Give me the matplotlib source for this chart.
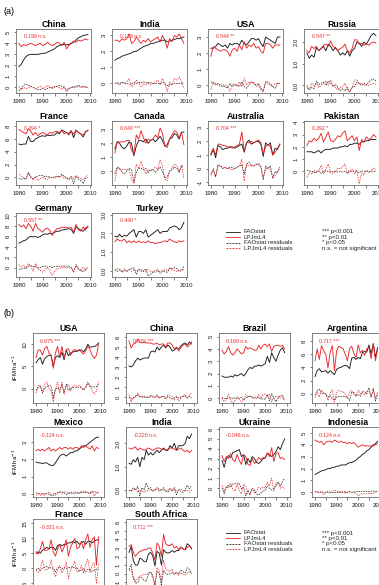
import matplotlib
matplotlib.use("Agg")
import matplotlib.pyplot as plt
from matplotlib.lines import Line2D

plt.rcParams["font.family"] = ["Liberation Sans", "DejaVu Sans"]

W, H = 379, 585
BLACK = "#1a1a1a"
RED = "#e8262b"

years_a = list(range(1980, 2010))
years_b = list(range(1980, 2010))

# ── panel (a) data
a_china_fao = [1.9, 2.1, 2.5, 2.8, 2.95, 3.0, 3.0, 3.0, 3.0, 3.05, 3.1, 3.1, 3.2, 3.3, 3.4, 3.5, 3.7, 3.8, 3.9, 3.9, 3.85, 3.9, 4.0, 4.1, 4.3, 4.5, 4.6, 4.7, 4.75, 4.8]
a_china_lpj = [4.0, 3.7, 3.9, 3.8, 3.9, 4.0, 3.9, 3.8, 3.9, 4.0, 3.8, 3.9, 4.1, 3.9, 3.8, 3.9, 4.1, 4.0, 3.8, 4.1, 3.5, 3.8, 4.0, 4.2, 4.1, 4.3, 4.2, 4.3, 4.4, 4.3]
a_china_fao_res = [-0.3, -0.1, 0.2, 0.3, 0.2, 0.1, 0.0, -0.1, -0.2, -0.2, -0.1, -0.2, -0.1, 0.0, 0.0, 0.1, 0.1, 0.2, 0.1, 0.0, -0.2, -0.1, 0.0, 0.0, 0.1, 0.2, 0.1, 0.1, 0.0, 0.0]
a_china_lpj_res = [0.1, -0.2, 0.0, -0.1, 0.0, 0.1, 0.0, -0.1, 0.0, 0.1, -0.1, 0.0, 0.2, 0.0, -0.1, 0.0, 0.1, 0.0, -0.2, 0.1, -0.4, -0.1, 0.0, 0.1, 0.0, 0.1, 0.0, 0.0, 0.1, 0.0]

a_india_fao = [1.45, 1.55, 1.6, 1.7, 1.75, 1.8, 1.85, 1.9, 2.0, 2.0, 2.1, 2.2, 2.3, 2.35, 2.4, 2.5, 2.5, 2.55, 2.6, 2.65, 2.7, 2.7, 2.6, 2.65, 2.7, 2.75, 2.8, 2.8, 2.85, 2.9]
a_india_lpj = [2.7, 2.7, 2.6, 2.8, 2.7, 2.8, 3.1, 2.5, 2.6, 2.9, 2.7, 2.5, 2.7, 2.6, 2.8, 2.6, 2.7, 2.8, 2.9, 2.6, 3.0, 2.7, 2.2, 2.8, 2.6, 3.0, 2.9, 3.1, 2.8, 2.5]
a_india_fao_res = [0.0, 0.05, 0.0, 0.05, 0.0, 0.0, -0.05, -0.05, 0.05, 0.0, 0.05, 0.05, 0.1, 0.05, 0.0, 0.05, 0.0, 0.0, 0.0, 0.0, 0.05, 0.0, -0.15, -0.1, -0.05, 0.0, 0.0, 0.0, 0.0, 0.05]
a_india_lpj_res = [0.0, 0.0, -0.1, 0.1, 0.0, 0.1, 0.3, -0.2, -0.1, 0.2, 0.0, -0.2, 0.0, -0.1, 0.1, -0.1, 0.0, 0.1, 0.2, -0.1, 0.3, 0.0, -0.5, 0.1, -0.1, 0.3, 0.2, 0.4, 0.1, -0.3]

a_usa_fao = [2.3, 2.3, 2.4, 2.6, 2.5, 2.4, 2.5, 2.3, 2.6, 2.5, 2.6, 2.6, 2.5, 2.8, 2.6, 2.5, 2.7, 2.9, 2.9, 2.8, 2.9, 2.6, 2.4, 3.0, 2.9, 2.8, 2.7, 2.6, 3.0, 3.0]
a_usa_lpj = [1.8, 2.4, 2.3, 2.2, 2.1, 2.2, 2.2, 2.1, 1.8, 2.2, 2.3, 2.1, 2.5, 2.2, 2.7, 2.3, 2.5, 2.4, 2.6, 2.3, 2.4, 2.1, 2.0, 2.6, 2.6, 2.5, 2.3, 2.5, 2.5, 2.5]
a_usa_fao_res = [0.2, 0.1, 0.0, 0.1, 0.0, -0.1, -0.1, -0.2, 0.1, -0.1, 0.0, 0.0, -0.1, 0.2, -0.1, -0.2, 0.0, 0.2, 0.1, 0.0, 0.1, -0.2, -0.4, 0.2, 0.1, 0.0, -0.1, -0.2, 0.1, 0.1]
a_usa_lpj_res = [-0.3, 0.2, 0.1, 0.0, -0.1, 0.0, 0.0, -0.1, -0.4, 0.0, 0.1, -0.1, 0.2, -0.1, 0.4, 0.0, 0.2, 0.1, 0.2, -0.1, 0.0, -0.3, -0.4, 0.2, 0.2, 0.1, -0.1, 0.1, 0.1, 0.1]

a_russia_fao = [1.5, 1.25, 1.4, 1.3, 1.75, 1.6, 1.7, 1.8, 1.6, 1.9, 1.8, 1.6, 1.75, 1.6, 1.4, 1.5, 1.4, 1.6, 1.35, 1.6, 1.7, 2.0, 1.95, 1.8, 2.0, 1.9, 2.1, 2.3, 2.4, 2.3]
a_russia_lpj = [1.6, 1.5, 1.8, 1.7, 1.8, 1.6, 1.7, 1.85, 1.9, 1.8, 2.05, 1.8, 1.7, 1.6, 1.7, 1.75, 1.9, 1.6, 1.5, 1.7, 2.1, 2.1, 1.9, 1.95, 1.85, 1.9, 1.85, 1.95, 2.0, 1.95]
a_russia_fao_res = [0.0, -0.2, -0.1, -0.15, 0.2, 0.05, 0.1, 0.15, 0.0, 0.2, 0.1, -0.05, 0.05, -0.1, -0.25, -0.15, -0.25, -0.1, -0.3, -0.1, -0.05, 0.15, 0.1, 0.0, 0.1, 0.0, 0.15, 0.25, 0.3, 0.2]
a_russia_lpj_res = [-0.1, -0.2, 0.1, 0.0, 0.1, -0.1, 0.0, 0.1, 0.2, 0.0, 0.25, 0.0, -0.1, -0.2, -0.1, -0.05, 0.1, -0.2, -0.3, -0.1, 0.25, 0.25, 0.05, 0.1, 0.0, 0.05, 0.0, 0.05, 0.1, 0.05]

a_france_fao = [5.2, 5.1, 5.2, 5.2, 6.4, 5.6, 5.6, 6.0, 6.2, 6.4, 6.5, 6.4, 6.6, 6.5, 6.6, 6.6, 7.0, 6.8, 7.4, 7.2, 7.0, 6.8, 7.3, 6.2, 7.4, 7.0, 6.8, 6.3, 7.1, 7.3]
a_france_lpj = [7.5, 7.2, 7.0, 6.8, 7.6, 7.2, 6.6, 7.0, 6.5, 6.8, 7.0, 6.8, 6.6, 7.0, 6.9, 7.1, 7.2, 7.0, 7.3, 6.8, 7.0, 6.6, 7.2, 6.8, 7.3, 7.0, 6.8, 6.6, 7.1, 7.4]
a_france_fao_res = [-0.2, -0.3, -0.2, -0.3, 0.8, -0.1, -0.2, 0.1, 0.2, 0.3, 0.3, 0.1, 0.2, 0.0, 0.0, -0.1, 0.2, 0.0, 0.5, 0.2, -0.1, -0.3, 0.1, -1.0, 0.2, -0.3, -0.5, -1.0, -0.2, 0.0]
a_france_lpj_res = [0.5, 0.2, 0.0, -0.2, 0.6, 0.2, -0.4, 0.0, -0.5, -0.2, 0.0, -0.2, -0.4, 0.0, -0.1, 0.1, 0.2, 0.0, 0.3, -0.2, 0.0, -0.4, 0.2, -0.2, 0.3, 0.0, -0.2, -0.4, 0.1, 0.4]

a_canada_fao = [1.6, 2.1, 2.0, 1.7, 1.6, 1.8, 2.1, 2.0, 1.1, 1.8, 2.2, 2.2, 2.1, 2.3, 2.0, 2.2, 2.3, 2.1, 2.3, 2.5, 2.2, 1.8, 1.9, 2.3, 2.4, 2.7, 2.6, 2.3, 2.8, 2.8]
a_canada_lpj = [1.3, 2.1, 2.1, 2.1, 2.1, 2.2, 2.2, 1.5, 1.2, 2.6, 2.3, 2.9, 2.4, 2.0, 2.3, 2.2, 2.3, 2.6, 2.4, 3.1, 2.7, 1.8, 1.7, 2.3, 2.6, 2.9, 2.8, 2.4, 2.8, 1.9]
a_canada_fao_res = [-0.2, 0.3, 0.2, -0.1, -0.2, 0.0, 0.2, 0.1, -0.8, -0.1, 0.2, 0.2, 0.1, 0.2, -0.1, 0.1, 0.1, -0.1, 0.1, 0.3, -0.1, -0.5, -0.4, 0.0, 0.1, 0.3, 0.2, -0.1, 0.4, 0.3]
a_canada_lpj_res = [-0.7, 0.2, 0.1, 0.1, 0.1, 0.1, 0.1, -0.6, -0.9, 0.5, 0.2, 0.7, 0.2, -0.2, 0.1, 0.0, 0.1, 0.3, 0.1, 0.8, 0.4, -0.6, -0.7, 0.0, 0.2, 0.5, 0.4, 0.0, 0.4, -0.5]

a_australia_fao = [1.0, 1.4, 0.8, 1.7, 1.6, 1.4, 1.5, 1.5, 1.6, 1.6, 1.5, 1.6, 1.7, 1.8, 1.2, 1.9, 2.1, 1.8, 1.9, 2.0, 2.0, 1.8, 0.9, 1.9, 1.7, 1.9, 1.0, 1.5, 1.4, 1.8]
a_australia_lpj = [1.1, 1.5, 1.0, 1.8, 1.8, 1.7, 1.7, 1.6, 1.6, 1.5, 1.6, 1.7, 1.8, 2.7, 1.3, 1.9, 1.9, 2.0, 1.9, 2.0, 2.1, 1.9, 1.1, 1.6, 1.8, 1.6, 1.0, 1.2, 1.5, 1.8]
a_australia_fao_res = [-0.4, 0.0, -0.6, 0.3, 0.2, 0.0, 0.1, 0.0, 0.1, 0.1, 0.0, 0.1, 0.2, 0.3, -0.4, 0.3, 0.5, 0.2, 0.2, 0.3, 0.3, 0.1, -0.8, 0.2, 0.0, 0.2, -0.7, -0.2, -0.3, 0.1]
a_australia_lpj_res = [-0.5, -0.1, -0.6, 0.2, 0.2, 0.1, 0.1, 0.0, 0.0, -0.1, 0.0, 0.1, 0.2, 0.7, -0.9, 0.3, 0.2, 0.3, 0.2, 0.3, 0.4, 0.2, -0.6, -0.1, 0.1, -0.1, -0.7, -0.5, -0.2, 0.1]

a_pakistan_fao = [1.6, 1.6, 1.6, 1.5, 1.6, 1.7, 1.5, 1.7, 1.8, 1.8, 1.8, 1.9, 1.9, 1.9, 2.0, 2.0, 2.1, 2.0, 2.2, 2.2, 2.3, 2.3, 2.2, 2.4, 2.4, 2.5, 2.5, 2.6, 2.6, 2.6]
a_pakistan_lpj = [2.1, 2.5, 2.4, 2.7, 2.5, 2.7, 3.1, 2.4, 2.8, 3.2, 2.5, 2.4, 2.6, 2.9, 2.8, 3.1, 3.3, 2.5, 2.7, 2.9, 2.5, 2.8, 1.7, 2.6, 2.4, 2.8, 2.6, 2.7, 3.0, 2.8]
a_pakistan_fao_res = [0.1, 0.05, 0.0, -0.1, 0.0, 0.05, -0.15, 0.0, 0.05, 0.0, -0.05, 0.0, 0.0, -0.05, 0.0, -0.05, 0.0, -0.1, 0.05, 0.0, 0.05, 0.0, -0.1, 0.05, 0.0, 0.05, 0.0, 0.05, 0.0, 0.0]
a_pakistan_lpj_res = [-0.5, -0.1, -0.2, 0.1, -0.1, 0.1, 0.5, -0.2, 0.2, 0.6, -0.1, -0.2, 0.0, 0.3, 0.2, 0.4, 0.6, -0.2, 0.0, 0.2, -0.2, 0.1, -1.0, -0.1, -0.3, 0.1, -0.1, 0.0, 0.3, 0.1]

a_germany_fao = [4.7, 4.9, 5.2, 5.3, 5.8, 6.0, 5.9, 6.0, 5.8, 6.0, 6.3, 6.5, 6.4, 6.6, 6.5, 6.8, 7.0, 7.0, 7.2, 7.3, 7.4, 7.5, 7.3, 6.6, 7.9, 7.5, 7.2, 7.0, 7.6, 7.8]
a_germany_lpj = [8.3, 7.8, 8.2, 7.5, 8.5, 8.0, 7.0, 8.5, 7.5, 7.2, 6.8, 7.4, 7.6, 7.2, 6.2, 7.0, 7.5, 7.5, 7.8, 7.7, 7.8, 7.6, 7.7, 6.8, 8.3, 7.3, 7.0, 7.8, 7.2, 8.0]
a_germany_fao_res = [-0.3, -0.3, -0.1, -0.1, 0.3, 0.4, 0.2, 0.2, -0.1, 0.0, 0.2, 0.3, 0.1, 0.2, 0.0, 0.2, 0.3, 0.2, 0.3, 0.3, 0.3, 0.3, 0.0, -0.8, 0.4, -0.1, -0.5, -0.8, -0.3, -0.2]
a_germany_lpj_res = [0.6, 0.1, 0.5, -0.2, 0.8, 0.3, -0.7, 0.8, -0.2, -0.5, -0.9, -0.3, -0.1, -0.5, -1.5, -0.7, -0.2, -0.2, 0.1, 0.0, 0.1, -0.1, 0.0, -0.9, 0.6, -0.4, -0.7, 0.1, -0.5, 0.3]

a_turkey_fao = [1.85, 1.8, 1.95, 1.8, 1.9, 1.85, 2.0, 2.1, 2.2, 1.8, 2.1, 2.1, 2.0, 2.2, 1.8, 1.9, 2.0, 2.1, 2.2, 2.0, 2.1, 2.1, 2.1, 2.3, 2.35, 2.4, 2.35, 2.2, 2.3, 2.6]
a_turkey_lpj = [1.55, 1.7, 1.6, 1.6, 1.7, 1.5, 1.6, 1.5, 1.6, 1.5, 1.6, 1.5, 1.55, 1.5, 1.6, 1.5, 1.5, 1.45, 1.5, 1.5, 1.55, 1.6, 1.55, 1.7, 1.6, 1.55, 1.5, 1.6, 1.55, 1.6]
a_turkey_fao_res = [0.05, -0.05, 0.05, -0.1, 0.0, -0.05, 0.05, 0.1, 0.15, -0.2, 0.05, 0.05, -0.05, 0.1, -0.3, -0.2, -0.1, 0.0, 0.05, -0.15, -0.05, -0.05, -0.1, 0.1, 0.1, 0.15, 0.1, -0.05, 0.0, 0.25]
a_turkey_lpj_res = [0.0, 0.1, 0.05, 0.0, 0.1, -0.05, 0.05, -0.05, 0.05, -0.05, 0.05, -0.05, 0.0, -0.05, 0.05, -0.05, -0.05, -0.1, -0.05, -0.05, 0.0, 0.05, 0.0, 0.15, 0.05, 0.0, -0.05, 0.05, 0.0, 0.05]

# ── panel (b) data
b_usa_fao = [5.8, 6.5, 7.0, 5.5, 6.8, 7.2, 7.5, 7.5, 5.0, 7.0, 7.4, 7.0, 8.2, 6.5, 8.7, 7.4, 8.0, 8.2, 8.4, 8.4, 8.6, 8.7, 8.3, 8.9, 10.0, 9.3, 9.4, 9.5, 9.7, 10.3]
b_usa_lpj = [7.0, 8.7, 8.7, 7.5, 9.0, 9.5, 8.0, 7.5, 4.6, 8.0, 9.5, 7.0, 9.5, 6.8, 8.7, 9.0, 7.5, 8.5, 8.8, 8.5, 8.8, 8.2, 7.8, 8.5, 9.5, 8.8, 7.5, 6.8, 7.5, 10.0]
b_usa_fao_res = [-0.4, 0.2, 0.6, -1.0, 0.2, 0.5, 0.7, 0.6, -2.0, -0.1, 0.2, -0.3, 0.8, -1.0, 1.0, -0.4, 0.1, 0.2, 0.3, 0.2, 0.3, 0.2, -0.3, 0.2, 1.2, 0.4, 0.4, 0.4, 0.5, 1.0]
b_usa_lpj_res = [-1.0, 0.7, 0.7, -0.5, 1.0, 1.5, 0.0, -0.5, -3.0, 0.0, 1.5, -1.0, 1.5, -1.2, 0.7, 1.0, -0.5, 0.5, 0.8, 0.5, 0.8, 0.2, -0.2, 0.5, 1.5, 0.8, -0.5, -1.2, -0.5, 1.6]

b_china_fao = [3.1, 3.0, 3.2, 3.6, 3.9, 3.7, 3.8, 3.9, 3.9, 3.9, 4.5, 4.6, 4.5, 5.0, 4.7, 5.0, 5.2, 4.9, 5.2, 5.0, 4.6, 4.7, 4.9, 4.8, 5.1, 5.3, 5.4, 5.2, 5.5, 5.3]
b_china_lpj = [5.6, 4.9, 5.3, 5.4, 5.8, 5.5, 5.4, 5.5, 5.4, 5.4, 5.4, 5.3, 5.3, 5.4, 5.2, 5.3, 5.3, 5.0, 5.4, 5.4, 5.2, 4.8, 5.0, 4.6, 4.9, 5.2, 5.3, 5.0, 5.2, 5.5]
b_china_fao_res = [0.0, -0.2, -0.1, 0.1, 0.2, 0.0, 0.0, 0.0, -0.05, -0.1, 0.15, 0.1, -0.05, 0.2, -0.1, 0.05, 0.1, -0.15, 0.05, -0.1, -0.2, -0.1, 0.05, -0.1, 0.0, 0.05, 0.1, -0.1, 0.05, -0.1]
b_china_lpj_res = [0.2, -0.5, -0.1, 0.0, 0.4, 0.1, 0.0, 0.1, 0.0, 0.0, 0.05, -0.05, 0.0, 0.1, -0.1, 0.0, 0.05, -0.2, 0.2, 0.2, 0.05, -0.3, -0.05, -0.4, -0.1, 0.15, 0.25, -0.05, 0.15, 0.4]

b_brazil_fao = [1.8, 1.7, 1.7, 1.7, 1.8, 1.7, 1.9, 1.8, 1.9, 2.0, 1.8, 2.0, 2.3, 2.5, 2.4, 2.6, 2.6, 2.7, 2.6, 2.7, 2.8, 3.4, 2.9, 3.7, 3.3, 3.0, 3.5, 3.9, 4.1, 3.7]
b_brazil_lpj = [3.9, 3.6, 3.8, 4.2, 3.7, 3.5, 3.7, 4.0, 3.8, 3.6, 3.7, 4.2, 4.0, 4.1, 4.0, 3.9, 3.9, 4.3, 4.0, 4.3, 4.4, 4.2, 4.4, 3.8, 4.2, 4.3, 4.3, 4.2, 4.3, 4.0]
b_brazil_fao_res = [0.05, -0.05, -0.05, 0.0, 0.05, -0.05, 0.05, -0.05, 0.0, 0.05, -0.15, 0.0, 0.1, 0.2, 0.05, 0.1, 0.05, 0.05, -0.1, -0.05, -0.1, 0.3, -0.2, 0.35, 0.0, -0.3, 0.0, 0.2, 0.25, -0.2]
b_brazil_lpj_res = [0.0, -0.3, -0.1, 0.3, -0.2, -0.4, -0.2, 0.1, -0.1, -0.3, -0.2, 0.3, 0.1, 0.15, 0.05, -0.05, -0.05, 0.3, 0.0, 0.25, 0.35, 0.1, 0.3, -0.3, 0.1, 0.15, 0.1, 0.0, 0.1, -0.2]

b_argentina_fao = [2.6, 3.5, 3.8, 3.3, 3.4, 3.5, 3.1, 3.5, 3.2, 2.9, 3.7, 3.9, 4.0, 4.2, 4.3, 4.2, 3.8, 5.4, 5.5, 5.2, 5.5, 5.3, 6.3, 6.4, 6.3, 7.4, 6.0, 7.6, 5.5, 7.0]
b_argentina_lpj = [5.0, 6.8, 5.2, 7.3, 6.5, 6.0, 3.9, 6.3, 7.3, 3.5, 6.5, 7.2, 7.0, 6.8, 6.0, 5.0, 6.8, 7.2, 6.1, 5.5, 7.4, 6.2, 6.6, 5.8, 6.8, 7.0, 5.3, 7.6, 5.0, 6.8]
b_argentina_fao_res = [-0.2, 0.5, 0.7, 0.1, 0.0, 0.0, -0.5, -0.3, -0.7, -1.0, -0.5, -0.4, -0.4, -0.4, -0.4, -0.6, -1.0, 0.2, 0.2, -0.3, -0.1, -0.4, 0.3, 0.3, 0.0, 0.9, -0.5, 0.8, -1.1, 0.0]
b_argentina_lpj_res = [-0.6, 0.3, -0.5, 0.6, 0.2, -0.1, -1.0, 0.1, 0.6, -1.2, 0.2, 0.5, 0.4, 0.3, -0.1, -0.6, 0.3, 0.5, -0.1, -0.4, 0.6, 0.0, 0.2, -0.2, 0.3, 0.4, -0.5, 0.7, -0.6, 0.3]

b_mexico_fao = [1.85, 1.8, 1.8, 1.75, 1.8, 1.8, 1.7, 1.65, 1.65, 1.8, 2.0, 2.2, 2.3, 2.3, 2.2, 2.3, 2.4, 2.4, 2.5, 2.5, 2.6, 2.7, 2.8, 2.8, 2.9, 3.0, 3.1, 3.2, 3.3, 3.3]
b_mexico_lpj = [2.5, 2.6, 2.5, 2.6, 2.5, 2.6, 2.7, 2.5, 2.6, 2.5, 2.6, 2.7, 2.6, 2.7, 2.7, 2.6, 2.7, 2.6, 2.7, 2.7, 2.6, 2.8, 2.7, 2.8, 2.7, 2.6, 2.8, 2.5, 2.7, 2.65]
b_mexico_fao_res = [0.05, 0.0, 0.0, -0.05, 0.0, 0.0, -0.05, -0.1, -0.1, 0.0, 0.05, 0.1, 0.1, 0.05, -0.05, 0.0, 0.05, 0.0, 0.05, 0.0, 0.05, 0.05, 0.1, 0.05, 0.05, 0.05, 0.1, 0.1, 0.1, 0.05]
b_mexico_lpj_res = [-0.1, 0.0, -0.1, 0.0, -0.1, 0.0, 0.1, -0.1, 0.0, -0.1, 0.0, 0.1, 0.0, 0.1, 0.1, 0.0, 0.1, 0.0, 0.1, 0.1, 0.0, 0.15, 0.05, 0.15, 0.05, -0.05, 0.15, -0.15, 0.05, 0.0]

b_india_fao = [1.15, 1.1, 1.3, 1.2, 1.4, 1.0, 1.4, 1.3, 1.7, 1.5, 1.6, 1.5, 1.6, 1.7, 1.6, 1.7, 1.8, 1.7, 1.7, 1.9, 1.8, 2.0, 1.7, 1.9, 1.9, 1.9, 2.0, 2.3, 2.2, 2.4]
b_india_lpj = [1.8, 1.75, 1.8, 1.85, 1.7, 1.8, 1.75, 1.7, 1.75, 1.8, 1.75, 1.7, 1.75, 1.8, 1.8, 1.75, 1.75, 1.7, 1.75, 1.8, 1.8, 1.75, 1.7, 1.75, 1.8, 1.7, 1.65, 1.7, 1.6, 1.7]
b_india_fao_res = [0.0, -0.05, 0.1, 0.0, 0.15, -0.25, 0.1, 0.0, 0.3, 0.05, 0.1, -0.05, 0.0, 0.1, -0.05, 0.0, 0.1, -0.05, -0.1, 0.05, -0.05, 0.1, -0.2, 0.0, -0.05, -0.1, 0.0, 0.2, 0.05, 0.2]
b_india_lpj_res = [0.0, -0.05, 0.0, 0.05, -0.1, 0.0, -0.05, -0.1, -0.05, 0.0, 0.0, -0.05, 0.0, 0.05, 0.05, 0.0, 0.0, -0.05, 0.0, 0.05, 0.05, 0.0, -0.05, 0.0, 0.05, 0.0, -0.05, 0.0, -0.1, 0.0]

b_ukraine_fao = [2.8, 2.1, 3.0, 3.3, 3.1, 3.6, 3.7, 3.8, 3.9, 3.2, 3.4, 2.4, 3.0, 2.6, 3.2, 3.0, 2.6, 2.5, 2.7, 3.0, 3.1, 3.5, 3.4, 3.2, 3.4, 3.7, 4.2, 3.9, 4.5, 5.0]
b_ukraine_lpj = [3.3, 2.7, 3.2, 3.0, 3.5, 2.9, 2.7, 3.4, 2.8, 2.4, 3.4, 3.2, 2.4, 2.3, 3.0, 2.5, 2.7, 3.1, 2.9, 3.1, 3.0, 3.6, 3.2, 4.1, 2.7, 3.5, 3.6, 3.0, 3.1, 2.9]
b_ukraine_fao_res = [0.0, -0.6, 0.1, 0.3, 0.1, 0.4, 0.5, 0.5, 0.5, -0.1, 0.1, -0.8, -0.2, -0.6, 0.0, -0.2, -0.6, -0.7, -0.5, -0.3, -0.2, 0.2, 0.0, -0.2, 0.0, 0.2, 0.6, 0.2, 0.7, 1.0]
b_ukraine_lpj_res = [0.3, -0.3, 0.2, 0.0, 0.5, -0.1, -0.3, 0.4, -0.2, -0.6, 0.4, 0.2, -0.6, -0.7, 0.0, -0.5, -0.3, 0.1, -0.1, 0.1, 0.0, 0.6, 0.2, 1.0, -0.3, 0.5, 0.6, 0.0, 0.1, -0.1]

b_indonesia_fao = [1.5, 1.6, 1.7, 1.8, 1.85, 1.9, 2.0, 2.0, 2.1, 2.1, 2.2, 2.2, 2.3, 2.3, 2.3, 2.4, 2.5, 2.5, 2.6, 2.7, 2.9, 3.0, 3.2, 3.3, 3.5, 3.6, 3.8, 4.0, 4.1, 4.3]
b_indonesia_lpj = [4.4, 4.3, 4.2, 4.3, 4.0, 4.2, 4.3, 4.3, 4.2, 4.4, 4.3, 4.2, 4.3, 4.2, 4.2, 4.1, 4.2, 4.1, 4.2, 4.0, 3.8, 3.9, 4.0, 3.9, 3.9, 3.9, 3.9, 3.9, 4.0, 4.1]
b_indonesia_fao_res = [0.05, 0.0, 0.0, 0.05, 0.0, -0.05, 0.0, -0.05, 0.0, -0.05, 0.0, -0.05, 0.0, 0.0, -0.05, 0.0, 0.05, 0.0, 0.0, 0.05, 0.1, 0.05, 0.1, 0.05, 0.1, 0.05, 0.1, 0.1, 0.05, 0.1]
b_indonesia_lpj_res = [0.1, 0.05, -0.05, 0.05, -0.2, 0.0, 0.1, 0.1, 0.0, 0.2, 0.1, 0.0, 0.1, 0.05, 0.05, -0.05, 0.05, -0.05, 0.05, -0.1, -0.3, -0.2, -0.1, -0.15, -0.1, -0.1, -0.1, -0.1, 0.0, 0.1]

b_france_fao = [5.0, 5.5, 5.0, 6.0, 6.5, 7.0, 6.5, 7.0, 7.0, 6.0, 7.5, 8.0, 7.5, 8.0, 8.0, 8.5, 8.5, 9.0, 8.5, 9.0, 8.0, 8.5, 9.0, 8.0, 9.0, 9.0, 8.5, 9.0, 9.5, 9.5]
b_france_lpj = [5.5, 4.7, 6.5, 9.0, 6.0, 6.0, 6.5, 9.5, 5.5, 4.0, 6.5, 8.0, 5.5, 7.0, 9.5, 4.0, 7.0, 8.5, 10.0, 6.5, 7.0, 9.0, 6.5, 9.5, 11.5, 7.0, 9.5, 10.5, 1.0, 10.5]
b_france_fao_res = [-0.5, 0.0, -0.8, 0.0, 0.3, 0.6, -0.1, 0.2, 0.0, -1.2, 0.1, 0.4, -0.3, 0.1, -0.1, 0.3, 0.2, 0.5, -0.1, 0.2, -1.0, -0.6, -0.2, -1.3, -0.4, -0.5, -1.1, -0.7, -0.3, -0.4]
b_france_lpj_res = [-0.7, -1.5, 0.2, 2.6, -0.4, -0.5, -0.1, 2.8, -1.3, -2.9, -0.5, 0.9, -1.7, -0.3, 2.1, -3.5, -0.6, 0.8, 2.2, -1.4, -1.0, 0.9, -1.7, 1.2, 3.1, -1.5, 0.9, 1.8, -5.2, 1.7]

b_safrica_fao = [2.5, 3.2, 1.5, 1.0, 1.0, 1.8, 1.7, 1.4, 1.4, 2.3, 2.5, 2.1, 0.9, 2.6, 2.4, 1.0, 2.8, 2.5, 2.4, 2.5, 2.7, 2.5, 2.7, 2.7, 3.1, 2.9, 2.8, 3.5, 3.3, 2.9]
b_safrica_lpj = [3.2, 3.4, 2.5, 2.0, 2.4, 2.6, 2.7, 2.8, 2.8, 3.0, 3.0, 2.4, 1.6, 3.6, 3.2, 2.0, 4.6, 3.5, 3.3, 3.3, 3.5, 3.0, 3.2, 2.8, 3.1, 2.9, 2.8, 3.1, 3.2, 3.0]
b_safrica_fao_res = [0.5, 1.1, -0.6, -1.1, -1.1, -0.4, -0.5, -0.8, -0.9, 0.0, 0.2, -0.2, -1.4, 0.3, 0.0, -1.4, 0.4, 0.0, -0.1, 0.0, 0.1, -0.1, 0.1, 0.0, 0.4, 0.2, 0.1, 0.7, 0.5, 0.0]
b_safrica_lpj_res = [0.3, 0.5, -0.4, -0.9, -0.5, -0.3, -0.2, -0.1, -0.1, 0.1, 0.1, -0.5, -1.3, 0.7, 0.3, -0.9, 1.6, 0.5, 0.3, 0.3, 0.5, 0.0, 0.2, -0.2, 0.1, -0.1, -0.2, 0.1, 0.2, 0.0]

# (title, fao, lpj, fao_res, lpj_res, r label, ylim, yticks, yticklabels)
panel_a = [
    ("China", a_china_fao, a_china_lpj, a_china_fao_res, a_china_lpj_res, "0.199 n.s.", (-0.5, 5.3), [0, 1, 2, 3, 4, 5], None),
    ("India", a_india_fao, a_india_lpj, a_india_fao_res, a_india_lpj_res, "0.179 n.s.", (-0.6, 3.4), [0, 1, 2, 3], None),
    ("USA", a_usa_fao, a_usa_lpj, a_usa_fao_res, a_usa_lpj_res, "0.544 **", (-0.5, 3.5), [0, 1, 2, 3], None),
    ("Russia", a_russia_fao, a_russia_lpj, a_russia_fao_res, a_russia_lpj_res, "0.547 **", (-0.35, 2.6), [0, 1, 2], ["0.0", "1.0", "2.0"]),
    ("France", a_france_fao, a_france_lpj, a_france_fao_res, a_france_lpj_res, "0.394 *", (-1.2, 8.8), [0, 2, 4, 6, 8], None),
    ("Canada", a_canada_fao, a_canada_lpj, a_canada_fao_res, a_canada_lpj_res, "0.640 ***", (-1.0, 3.6), [0, 1, 2, 3], None),
    ("Australia", a_australia_fao, a_australia_lpj, a_australia_fao_res, a_australia_lpj_res, "0.704 ***", (-1.2, 3.5), [-1, 0, 1, 2, 3], None),
    ("Pakistan", a_pakistan_fao, a_pakistan_lpj, a_pakistan_fao_res, a_pakistan_lpj_res, "0.392 *", (-1.1, 4.1), [0, 1, 2, 3, 4], None),
    ("Germany", a_germany_fao, a_germany_lpj, a_germany_fao_res, a_germany_lpj_res, "0.557 **", (-1.8, 10.5), [0, 2, 4, 6, 8, 10], None),
    ("Turkey", a_turkey_fao, a_turkey_lpj, a_turkey_fao_res, a_turkey_lpj_res, "0.440 *", (-0.35, 3.1), [0, 1, 2, 3], ["0.0", "1.0", "2.0", "3.0"]),
]

panel_b = [
    ("USA", b_usa_fao, b_usa_lpj, b_usa_fao_res, b_usa_lpj_res, "0.675 ***", (-3.2, 12.5), [0, 5, 10], None),
    ("China", b_china_fao, b_china_lpj, b_china_fao_res, b_china_lpj_res, "0.676 ***", (-0.6, 6.4), [0, 1, 2, 3, 4, 5, 6], None),
    ("Brazil", b_brazil_fao, b_brazil_lpj, b_brazil_fao_res, b_brazil_lpj_res, "0.169 n.s.", (-0.4, 5.3), [0, 1, 2, 3, 4, 5], None),
    ("Argentina", b_argentina_fao, b_argentina_lpj, b_argentina_fao_res, b_argentina_lpj_res, "0.717 ***", (-1.4, 9.2), [0, 2, 4, 6, 8], None),
    ("Mexico", b_mexico_fao, b_mexico_lpj, b_mexico_fao_res, b_mexico_lpj_res, "-0.124 n.s.", (-0.2, 3.9), [0, 1, 2, 3], None),
    ("India", b_india_fao, b_india_lpj, b_india_fao_res, b_india_lpj_res, "-0.220 n.s.", (-0.3, 2.7), [0, 1, 2], ["0.0", "1.0", "2.0"]),
    ("Ukraine", b_ukraine_fao, b_ukraine_lpj, b_ukraine_fao_res, b_ukraine_lpj_res, "-0.046 n.s.", (-0.9, 6.2), [0, 1, 2, 3, 4, 5, 6], None),
    ("Indonesia", b_indonesia_fao, b_indonesia_lpj, b_indonesia_fao_res, b_indonesia_lpj_res, "0.124 n.s.", (-0.4, 5.5), [0, 1, 2, 3, 4, 5], None),
    ("France", b_france_fao, b_france_lpj, b_france_fao_res, b_france_lpj_res, "-0.331 n.s.", (-7.0, 16.5), [-5, 0, 5, 10, 15], None),
    ("South Africa", b_safrica_fao, b_safrica_lpj, b_safrica_fao_res, b_safrica_lpj_res, "0.711 ***", (-1.8, 6.4), [-1, 0, 1, 2, 3, 4, 5, 6], None),
]

legend_labels = ["FAOstat", "LPJmL4", "FAOstat residuals", "LPJmL4 residuals"]
signif_labels = ["*** p<0.001", "** p<0.01", "* p<0.05", "n.s. = not significant"]


def px_box(left, top, width, height):
    return [left / W, 1 - (top + height) / H, width / W, height / H]


def draw_country(fig, rect, years, spec, xlim, ylabel=None):
    title, fao, lpj, fao_res, lpj_res, rtxt, ylim, yticks, ylabs = spec
    ax = fig.add_axes(rect)
    ax.plot(years, fao, color=BLACK, lw=0.65)
    ax.plot(years, lpj, color=RED, lw=0.65)
    ax.plot(years, fao_res, color=BLACK, lw=0.5, dashes=(2.2, 1.4))
    ax.plot(years, lpj_res, color=RED, lw=0.5, dashes=(2.2, 1.4))
    ax.set_xlim(*xlim)
    ax.set_ylim(*ylim)
    ax.set_xticks([1980, 1990, 2000, 2010])
    ax.set_xticks([1985, 1995, 2005], minor=True)
    ax.set_yticks(yticks)
    ax.set_yticklabels(ylabs if ylabs else [str(t) for t in yticks])
    ax.tick_params(axis="both", which="both", direction="out", length=1.8,
                   width=0.4, labelsize=4.3, pad=2.2, colors=BLACK)
    ax.tick_params(axis="y", labelrotation=90)
    for lab in ax.get_yticklabels():
        lab.set_va("center")
    for sp in ax.spines.values():
        sp.set_color("#6e6e6e")
        sp.set_linewidth(0.6)
    ax.set_title(title, fontsize=6.3, fontweight="bold", pad=1.5)
    ax.text(0.1, 0.88, rtxt, transform=ax.transAxes, color=RED,
            fontsize=3.7, ha="left", va="center")
    if ylabel:
        ax.set_ylabel(ylabel, fontsize=4.3, labelpad=2)
    return ax


def draw_legend(fig, top):
    x0, x1, xt, xs = 226, 240, 244, 322
    for i, lab in enumerate(legend_labels):
        y = 1 - (top + i * 5.4) / H
        col = BLACK if i % 2 == 0 else RED
        ls = "-" if i < 2 else (0, (2.2, 1.4))
        fig.add_artist(Line2D([x0 / W, x1 / W], [y, y], color=col, lw=0.6,
                              linestyle=ls, transform=fig.transFigure))
        fig.text(xt / W, y, lab, fontsize=4.45, va="center", ha="left", color="#222222")
        fig.text(xs / W, y, signif_labels[i], fontsize=4.45, va="center", ha="left", color="#222222")


fig = plt.figure(figsize=(W / 100, H / 100), dpi=100)

# ── panel (a)
fig.text(3 / W, 1 - 12 / H, "(a)", fontsize=6.5, va="center", ha="left")
a_lefts = [16, 112, 208, 304]
a_tops = [29, 121, 213]
for k, spec in enumerate(panel_a):
    r, c = divmod(k, 4)
    draw_country(fig, px_box(a_lefts[c], a_tops[r], 75, 64), years_a, spec,
                 (1978.8, 2010.3))
draw_legend(fig, 232)

# ── panel (b)
fig.text(3 / W, 1 - 314 / H, "(b)", fontsize=6.5, va="center", ha="left")
b_lefts = [33, 126, 219, 312]
b_tops = [333, 427, 519]
for k, spec in enumerate(panel_b):
    r, c = divmod(k, 4)
    ylab = "tFM ha$^{-1}$" if c == 0 else None
    draw_country(fig, px_box(b_lefts[c], b_tops[r], 71, 70), years_b, spec,
                 (1978.6, 2011.5), ylabel=ylab)
draw_legend(fig, 533)

fig.savefig("out.png", dpi=100)
